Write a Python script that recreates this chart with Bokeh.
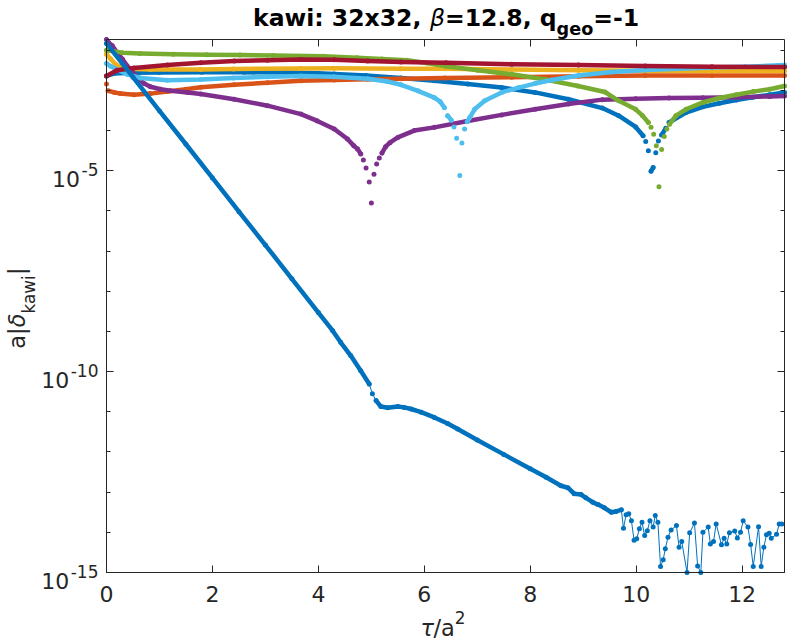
import math
from bokeh.plotting import figure
from bokeh.models import (Range1d, FixedTicker, LinearAxis, LogAxis,
                          CustomJSTickFormatter, Label)
from bokeh.embed import file_html
from bokeh.resources import INLINE

# ---------------- data (tau/a^2 , log10 of a|delta_kawi|) ----------------
tau_blue_flat = [0, 0.14, 0.5, 1.0, 1.8, 2.6, 3.4, 4.0, 4.3, 4.9, 5.56, 6.19, 6.82,
                 7.46, 8.09, 8.72, 9.36, 9.67, 9.99, 10.13, 10.18, 10.23, 10.28,
                 10.32, 10.37, 10.42, 10.48, 10.56, 10.62, 10.94, 11.26, 11.57,
                 11.89, 12.2, 12.52, 12.8]
log_blue_flat = [-2.64, -2.58, -2.56, -2.555, -2.55, -2.55, -2.555, -2.57, -2.59,
                 -2.63, -2.69, -2.76, -2.84, -2.93, -3.05, -3.22, -3.44, -3.63,
                 -3.91, -4.13, -4.27, -4.50, -5.01, -4.92, -4.55, -4.26, -4.11,
                 -3.94, -3.80, -3.55, -3.41, -3.32, -3.24, -3.17, -3.11, -3.05]

tau_orange = [0, 0.03, 0.15, 0.26, 0.52, 0.83, 1.15, 1.5, 1.78, 2.41, 3.04, 3.67,
              4.30, 4.93, 5.56, 6.39, 7.65, 8.91, 10.17, 11.43, 12.8]
log_orange = [-2.84, -3.01, -3.05, -3.08, -3.11, -3.08, -3.03, -2.97, -2.92, -2.86,
              -2.81, -2.76, -2.74, -2.72, -2.71, -2.69, -2.67, -2.645, -2.63,
              -2.63, -2.63]

tau_yellow = [0, 0.08, 0.17, 0.26, 0.40, 0.83, 1.78, 2.40, 3.67, 4.29, 5.56, 6.39,
              7.65, 8.91, 10.17, 11.43, 12.8]
log_yellow = [-2.10, -2.22, -2.35, -2.41, -2.46, -2.48, -2.48, -2.465, -2.455,
              -2.45, -2.46, -2.46, -2.48, -2.50, -2.51, -2.515, -2.52]

tau_purple = [0, 0.04, 0.11, 0.20, 0.30, 0.39, 0.49, 0.58, 0.71, 0.83, 1.02, 1.21,
              1.53, 1.78, 2.41, 3.04, 3.67, 3.98, 4.30, 4.55, 4.67, 4.74, 4.80,
              4.85, 4.90, 4.96, 5.00, 5.05, 5.10, 5.15, 5.20, 5.27, 5.35, 5.50,
              5.81, 6.19, 6.82, 7.46, 8.09, 8.72, 9.36, 9.99, 10.62, 11.26, 11.89,
              12.52, 12.8]
log_purple = [-1.73, -1.81, -1.89, -2.06, -2.22, -2.39, -2.55, -2.68, -2.83, -2.91,
              -2.97, -3.01, -3.05, -3.09, -3.22, -3.38, -3.59, -3.76, -3.96, -4.21,
              -4.38, -4.46, -4.58, -4.73, -4.93, -5.28, -5.80, -5.09, -4.83, -4.68,
              -4.56, -4.40, -4.30, -4.17, -4.00, -3.92, -3.76, -3.61, -3.47, -3.34,
              -3.23, -3.21, -3.19, -3.18, -3.17, -3.15, -3.14]

tau_green = [0, 0.3, 0.63, 1.26, 1.89, 2.52, 3.15, 4.10, 4.73, 5.20, 5.67, 6.05,
             6.41, 7.01, 7.65, 8.28, 8.90, 9.41, 9.67, 9.99, 10.12, 10.23, 10.28,
             10.33, 10.38, 10.43, 10.48, 10.53, 10.58, 10.63, 10.75, 10.94, 11.26,
             11.57, 11.89, 12.21, 12.52, 12.8]
log_green = [-2.00, -2.06, -2.08, -2.10, -2.11, -2.12, -2.13, -2.15, -2.19, -2.22,
             -2.25, -2.32, -2.40, -2.50, -2.60, -2.73, -2.89, -3.04, -3.26, -3.47,
             -3.63, -3.80, -3.92, -4.09, -4.38, -5.40, -4.47, -4.15, -3.96, -3.84,
             -3.63, -3.47, -3.30, -3.19, -3.11, -3.03, -2.97, -2.89]

tau_lightblue = [0, 0.08, 0.20, 0.39, 0.64, 1.15, 1.78, 2.40, 3.04, 3.67, 4.29, 4.93,
                 5.30, 5.56, 5.88, 6.19, 6.30, 6.38, 6.44, 6.51, 6.56, 6.61, 6.67,
                 6.71, 6.76, 6.81, 6.86, 6.95, 7.14, 7.46, 7.78, 8.09, 8.41, 8.91,
                 9.54, 10.17, 10.80, 11.43, 12.06, 12.8]
log_lightblue = [-2.33, -2.40, -2.48, -2.60, -2.69, -2.75, -2.73, -2.69, -2.66,
                 -2.64, -2.66, -2.71, -2.78, -2.86, -3.01, -3.18, -3.28, -3.43,
                 -3.63, -3.74, -3.91, -4.19, -5.12, -4.31, -3.96, -3.78, -3.67,
                 -3.47, -3.26, -3.05, -2.93, -2.83, -2.74, -2.63, -2.54, -2.49,
                 -2.46, -2.43, -2.41, -2.37]

tau_darkred = [0, 0.2, 0.52, 1.15, 1.78, 2.41, 3.04, 3.67, 4.30, 4.93, 5.56, 6.41,
               7.65, 8.91, 10.17, 11.43, 12.8]
log_darkred = [-2.64, -2.50, -2.44, -2.37, -2.31, -2.27, -2.25, -2.23, -2.24, -2.27,
               -2.29, -2.31, -2.35, -2.37, -2.39, -2.41, -2.42]

tau_blue_decay = [0, 0.5, 1.0, 1.5, 2.0, 2.5, 3.0, 3.5, 4.0, 4.27, 4.42, 4.61, 4.80,
                  4.96, 5.02, 5.09, 5.18, 5.31, 5.50, 5.62, 5.75, 5.94, 6.19, 6.44,
                  6.63, 7.0, 7.5, 8.0, 8.3, 8.58, 8.71, 8.83, 8.96, 9.05, 9.18, 9.28,
                  9.40, 9.53, 9.62, 9.72,
                  9.76, 9.81, 9.86, 9.91, 9.96, 10.01, 10.06, 10.11, 10.16, 10.21,
                  10.26, 10.32, 10.36, 10.41, 10.46, 10.51, 10.55, 10.60, 10.66,
                  10.76, 10.81, 10.86, 10.96, 11.01, 11.10, 11.16, 11.22, 11.26,
                  11.36, 11.40, 11.46, 11.51, 11.61, 11.66, 11.71, 11.76, 11.86,
                  11.91, 11.97, 12.02, 12.11, 12.16, 12.21, 12.31, 12.36, 12.41,
                  12.46, 12.51, 12.55, 12.65, 12.70, 12.75]
log_blue_decay = [-1.83, -2.67, -3.51, -4.34, -5.18, -6.02, -6.85, -7.69, -8.53,
                  -8.98, -9.27, -9.60, -9.98, -10.31, -10.55, -10.72, -10.87, -10.90,
                  -10.87, -10.89, -10.93, -11.01, -11.14, -11.29, -11.43, -11.70,
                  -12.06, -12.42, -12.63, -12.84, -12.89, -13.04, -13.06, -13.14,
                  -13.25, -13.31, -13.39, -13.50, -13.48, -13.44,
                  -13.90, -13.56, -13.54, -13.71, -14.20, -14.16, -13.91, -13.75,
                  -14.08, -13.96, -13.71, -13.87, -13.58, -13.75, -14.85, -14.68,
                  -14.41, -14.12, -13.94, -13.83, -14.37, -14.23, -15.00, -14.01,
                  -13.77, -14.84, -15.00, -14.00, -13.87, -14.29, -14.23, -13.79,
                  -14.31, -14.15, -14.29, -14.01, -13.97, -14.14, -14.00, -13.71,
                  -13.87, -14.30, -14.85, -13.86, -14.85, -14.37, -14.06, -14.02,
                  -14.15, -14.05, -13.79, -13.79]
blue_decay_smooth_end = 9.72

x_ticks = [0, 2, 4, 6, 8, 10, 12]
y_major_exponents = [-15, -10, -5]
y_minor_exponents = list(range(-15, -1))

# ---------------- geometry / style ----------------
W, H = 789, 642
BX0, BX1 = 106, 784          # axes box, canvas px
BY0, BY1 = 39, 572
XMIN, XMAX = 0.0, 12.8
LOG_TOP, LOG_BOT = -1.733, -15.0
PX_PER_TAU = (BX1 - BX0) / (XMAX - XMIN)
PX_PER_DEC = (BY1 - BY0) / (LOG_TOP - LOG_BOT)
AX = "#262626"
FONT = "DejaVu Sans"
DY = -4.5                      # baseline correction for text labels

C_BLUE, C_ORANGE, C_YELLOW = "#0072BD", "#D95319", "#EDB120"
C_PURPLE, C_GREEN, C_LBLUE, C_RED = "#7E2F8E", "#77AC30", "#4DBEEE", "#A2142F"

# the frame covers the whole canvas; the axes are pinned to the box edges
x_range = Range1d(XMIN - BX0 / PX_PER_TAU, XMAX + (W - BX1) / PX_PER_TAU)
y_range = Range1d(10 ** (LOG_BOT - (H - BY1) / PX_PER_DEC),
                  10 ** (LOG_TOP + BY0 / PX_PER_DEC))

p = figure(width=W, height=H, x_range=x_range, y_range=y_range, y_axis_type="log",
           output_backend="svg", toolbar_location=None, min_border=0)
p.title.visible = False
p.xgrid.visible = False
p.ygrid.visible = False
p.outline_line_color = None
p.background_fill_color = "white"
p.border_fill_color = "white"

empty = CustomJSTickFormatter(code="return ''")
xt = FixedTicker(ticks=x_ticks, minor_ticks=[])
yt = FixedTicker(ticks=[10.0 ** e for e in y_major_exponents],
                 minor_ticks=[10.0 ** e for e in y_minor_exponents])

bottom = p.below[0]
left = p.left[0]
bottom.ticker = xt
left.ticker = yt
left.formatter = empty
top = LinearAxis(ticker=xt, formatter=empty)
right = LogAxis(ticker=yt, formatter=empty)
p.add_layout(top, "above")
p.add_layout(right, "right")

bottom.fixed_location = 10 ** LOG_BOT
top.fixed_location = 10 ** LOG_TOP
left.fixed_location = XMIN
right.fixed_location = XMAX
for ax in (bottom, top):
    ax.bounds = (XMIN, XMAX)
for ax in (left, right):
    ax.bounds = (10 ** LOG_BOT, 10 ** LOG_TOP)

for ax in (bottom, left, top, right):
    ax.axis_line_color = AX
    ax.axis_line_width = 1
    ax.major_tick_line_color = AX
    ax.minor_tick_line_color = AX
    ax.major_tick_in = 7
    ax.major_tick_out = 0
    ax.minor_tick_in = 4
    ax.minor_tick_out = 0
for ax in (left, top, right):
    ax.major_label_standoff = 0
bottom.major_label_text_font = FONT
bottom.major_label_text_font_size = "22px"
bottom.major_label_text_color = AX
bottom.major_label_standoff = 13


def broken(ts, ls, tmax=None):
    xs, ys = [], []
    for i, (t, l) in enumerate(zip(ts, ls)):
        if tmax is not None and t > tmax:
            break
        if i > 0:
            dt = t - ts[i - 1]
            dl = abs(l - ls[i - 1])
            if dl * PX_PER_DEC / dt * 0.05 > 4.6:
                xs.append(float("nan"))
                ys.append(float("nan"))
        xs.append(t)
        ys.append(10 ** l)
    return xs, ys


def series(ts, ls, color, tmax=None, thin=False):
    lx, ly = broken(ts, ls, tmax)
    p.line(lx, ly, line_color=color, line_width=4.5, line_cap="round",
           line_join="round")
    vals = [10 ** l for l in ls]
    if thin:
        p.line(ts, vals, line_color=color, line_width=1)
    p.scatter(ts, vals, size=5, fill_color=color, line_color=None)


series(tau_blue_flat, log_blue_flat, C_BLUE)
series(tau_orange, log_orange, C_ORANGE)
series(tau_yellow, log_yellow, C_YELLOW)
series(tau_purple, log_purple, C_PURPLE)
series(tau_green, log_green, C_GREEN)
series(tau_lightblue, log_lightblue, C_LBLUE)
series(tau_darkred, log_darkred, C_RED)
series(tau_blue_decay, log_blue_decay, C_BLUE, tmax=blue_decay_smooth_end, thin=True)


# ---------------- texts (canvas pixel positions) ----------------
def lab(text, fx, fy, size, color=AX, style="normal", align="left", angle=0.0):
    p.add_layout(Label(x=fx, y=fy, x_units="canvas", y_units="canvas", text=text,
                       text_font=FONT, text_font_size=f"{size}px",
                       text_font_style=style, text_color=color, text_align=align,
                       text_baseline="alphabetic", angle=angle))


# y tick labels 10^e
for e in y_major_exponents:
    fy = BY0 + (LOG_TOP - e) * PX_PER_DEC
    ex = f"{e}"
    exp_w = (0.361 + 0.636 * (len(ex) - 1)) * 17
    lab(ex, BX0 - 8, fy + 3.3 + DY, 17, align="right")
    lab("10", BX0 - 8 - exp_w - 1.5, fy + 12.7 + DY, 22, align="right")

# title
TS = 23.5
tx = 252.5
tb = 21.7 + DY
lab("kawi: 32x32,", tx, tb, TS, color="black", style="bold")
tx += 7.530 * TS
lab("β", tx, tb, TS, color="black", style="italic")
tx += 0.64 * TS
lab("=12.8, q", tx, tb, TS, color="black", style="bold")
tx += 4.750 * TS
lab("geo", tx, tb + 11.6, TS * 0.75, color="black", style="bold")
tx += 2.081 * TS * 0.75
lab("=-1", tx, tb, TS, color="black", style="bold")

# x label  tau/a^2
LS = 22.5
lx0 = 420
xb = 627
lab("τ", lx0, xb, LS, style="italic")
lab("/a", lx0 + 0.573 * LS, xb, LS)
lab("2", lx0 + 0.573 * LS + 0.95 * LS, xb - 10, LS * 0.75)

# y label  a|delta_kawi|
yb = 20.7 + DY
ys0 = 348.2
A = math.pi / 2
lab("a|", yb, ys0, LS, angle=A)
ys0 -= 0.95 * LS
lab("δ", yb, ys0, LS, style="italic", angle=A)
ys0 -= 0.612 * LS
lab("kawi", yb + 12.6, ys0, LS * 0.75, angle=A)
ys0 -= 2.288 * LS * 0.75
lab("|", yb, ys0, LS, angle=A)

open("out.html", "w").write(file_html(p, INLINE))
